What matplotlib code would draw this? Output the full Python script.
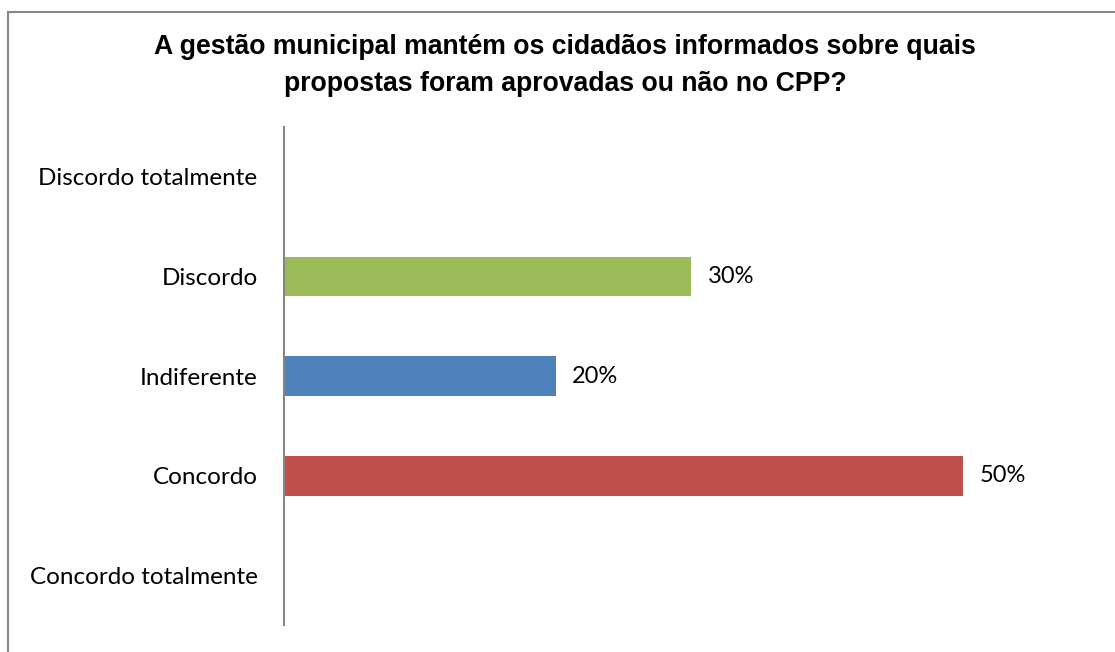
import matplotlib.pyplot as plt
from matplotlib.patches import Rectangle

# survey answers, top to bottom
categorias = ["Discordo totalmente", "Discordo", "Indiferente", "Concordo", "Concordo totalmente"]
valores = [0.0, 0.30, 0.20, 0.50, 0.0]
cores = ["#4F81BD", "#9BBB59", "#4F81BD", "#C0504D", "#4F81BD"]
titulo = "A gestão municipal mantém os cidadãos informados sobre quais\npropostas foram aprovadas ou não no CPP?"

fig = plt.figure(figsize=(11.15, 6.52), dpi=100)
ax = fig.add_axes([0.2547, 0.0414, 0.7308, 0.7637])

pos = list(range(len(categorias)))
ax.barh(pos, valores, height=0.4, color=cores)
ax.set_ylim(len(categorias) - 0.5, -0.5)
ax.set_xlim(0, 0.6)

# value labels next to the non-empty bars
for p, v in zip(pos, valores):
    if v > 0:
        ax.text(v + 0.012, p, f"{v:.0%}", va="center", ha="left",
                fontsize=17, family="Lato", color="black")

ax.set_yticks(pos)
ax.set_yticklabels(categorias, fontsize=17.5, family="Lato")
ax.tick_params(axis="y", length=0, pad=19)
ax.set_xticks([])
for s in ["top", "right", "bottom"]:
    ax.spines[s].set_visible(False)
ax.spines["left"].set_color("#868686")
ax.spines["left"].set_linewidth(1.5)

fig.text(0.507, 0.9, titulo, ha="center", va="center", fontsize=19.2,
         fontweight="bold", family="Liberation Sans", linespacing=1.55)

# chart area frame
fig.patches.append(Rectangle((8 / 1115, -0.1), 1.2, 1.1 - 12 / 652,
                             transform=fig.transFigure, fill=False,
                             edgecolor="#868686", linewidth=1.5))

fig.savefig("out.png", dpi=100)
